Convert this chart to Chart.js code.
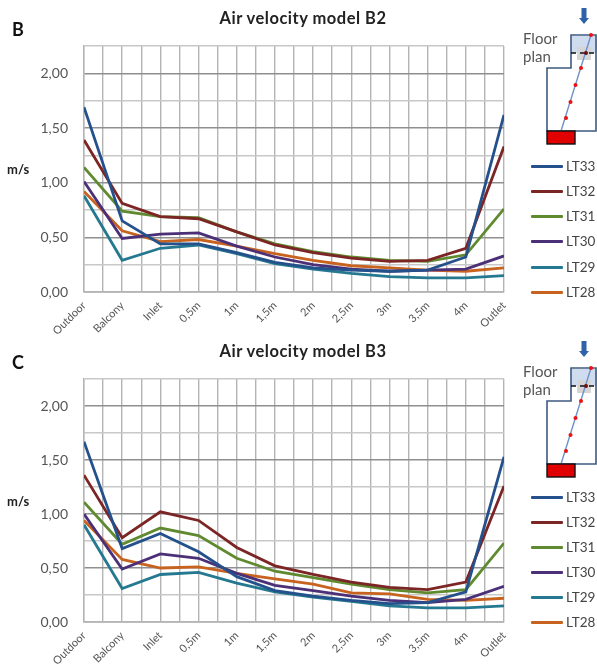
<!DOCTYPE html>
<html>
<head>
<meta charset="utf-8">
<title>Air velocity</title>
<script src="https://cdn.jsdelivr.net/npm/chart.js@4"></script>
<style>
    html, body { margin: 0; padding: 0; background: #fff; overflow: hidden; }
    #page { position: relative; width: 597px; height: 667px; overflow: hidden; font-family: Lato, sans-serif; }
    .panel { position: absolute; left: 0; width: 597px; height: 334px; }
    .panel canvas { position: absolute; left: 0; top: 0; }
    .title { position: absolute; left: 103px; width: 400px; text-align: center; font-size: 16.5px; letter-spacing: 0.5px; line-height: 20px; font-weight: bold; color: #222; }
    .letter { position: absolute; left: 12px; font-size: 18px; font-weight: bold; color: #111; }
    .unit { position: absolute; left: 7px; font-size: 13px; font-weight: bold; color: #222; }
    .floor { position: absolute; left: 523px; font-size: 15px; line-height: 18px; color: #555; }
    .plan { position: absolute; left: 510px; }
    .key { position: absolute; left: 531px; width: 66px; height: 16px; font-size: 13.5px; line-height: 16px; color: #444; white-space: nowrap; }
    .key i { position: absolute; left: 0; top: 7px; width: 32px; height: 3px; border-radius: 1px; }
    .key span { position: absolute; left: 35px; top: 0; }
</style>
</head>
<body>
<div id="page"></div>
<script>
// Axes
const categories = ['Outdoor', 'Balcony', 'Inlet', '0,5m', '1m', '1,5m', '2m', '2,5m', '3m', '3,5m', '4m', 'Outlet'];
const seriesNames = ['LT33', 'LT32', 'LT31', 'LT30', 'LT29', 'LT28'];
const seriesColors = ['#24508c', '#7c2525', '#5f8a30', '#4b2f77', '#24788f', '#c8631f'];

// Model B2 (m/s)
const b2LT33 = [1.69, 0.65, 0.44, 0.44, 0.36, 0.27, 0.22, 0.20, 0.19, 0.20, 0.32, 1.62];
const b2LT32 = [1.39, 0.81, 0.69, 0.67, 0.55, 0.43, 0.36, 0.31, 0.28, 0.29, 0.40, 1.33];
const b2LT31 = [1.14, 0.74, 0.69, 0.68, 0.55, 0.44, 0.37, 0.32, 0.29, 0.28, 0.34, 0.76];
const b2LT30 = [1.01, 0.49, 0.53, 0.54, 0.42, 0.32, 0.25, 0.21, 0.19, 0.20, 0.21, 0.33];
const b2LT29 = [0.88, 0.29, 0.40, 0.43, 0.35, 0.26, 0.21, 0.17, 0.14, 0.13, 0.13, 0.15];
const b2LT28 = [0.92, 0.56, 0.46, 0.48, 0.42, 0.35, 0.29, 0.24, 0.22, 0.20, 0.19, 0.22];

// Model B3 (m/s)
const b3LT33 = [1.67, 0.68, 0.82, 0.65, 0.42, 0.29, 0.24, 0.20, 0.17, 0.18, 0.28, 1.53];
const b3LT32 = [1.36, 0.78, 1.02, 0.94, 0.69, 0.52, 0.44, 0.37, 0.32, 0.30, 0.37, 1.26];
const b3LT31 = [1.11, 0.72, 0.87, 0.80, 0.59, 0.47, 0.41, 0.35, 0.30, 0.27, 0.30, 0.73];
const b3LT30 = [1.00, 0.49, 0.63, 0.59, 0.45, 0.34, 0.29, 0.24, 0.20, 0.18, 0.21, 0.33];
const b3LT29 = [0.90, 0.31, 0.44, 0.46, 0.36, 0.28, 0.23, 0.19, 0.15, 0.13, 0.13, 0.15];
const b3LT28 = [0.94, 0.58, 0.50, 0.51, 0.45, 0.40, 0.35, 0.27, 0.26, 0.21, 0.20, 0.22];

const page = document.getElementById('page');

// Dessin du petit plan (pas une donnee du graphique)
function floorPlanSvg() {
    const dots = [[81, 35], [71, 68], [65.5, 85], [60.5, 102], [56, 118]];
    return `<svg class="plan" width="87" height="150" viewBox="0 0 87 150">
        <rect x="61" y="36" width="26" height="17" fill="#cfdcf0"/>
        <rect x="67" y="47" width="14" height="13" fill="#d5d5d5"/>
        <path d="M61 35 H86 V131 H37 V68 H61 Z" fill="none" stroke="#3d5a80" stroke-width="1.6"/>
        <path d="M61 53 H87" stroke="#111" stroke-width="1.5" stroke-dasharray="5 4"/>
        <path d="M51 131 L81 35" stroke="#6f93c8" stroke-width="1.4"/>
        ${dots.map(d => `<circle cx="${d[0]}" cy="${d[1]}" r="2" fill="#ee1111"/>`).join('')}
        <circle cx="76" cy="53" r="2" fill="#6a0f0f"/>
        <rect x="37" y="131" width="28" height="13" fill="#e00000" stroke="#111" stroke-width="1.4"/>
        <path d="M71.5 8 H76.5 V18 H79 L74 24 L69 18 H71.5 Z" fill="#2f62a8"/>
    </svg>`;
}

function addText(className, text, top) {
    const el = document.createElement('div');
    el.className = className;
    el.innerHTML = text;
    el.style.top = top + 'px';
    page.appendChild(el);
}

function drawPanel(opts) {
    const panel = document.createElement('div');
    panel.className = 'panel';
    panel.style.top = opts.top + 'px';
    panel.innerHTML = '<canvas width="597" height="334"></canvas>';
    page.appendChild(panel);

    new Chart(panel.querySelector('canvas'), {
        type: 'line',
        data: {
            labels: categories,
            datasets: seriesNames.map((name, s) => ({
                label: name,
                data: opts.values[s].map((v, i) => ({ x: i, y: v })),
                borderColor: seriesColors[s],
                backgroundColor: seriesColors[s],
                borderWidth: 2.8,
                pointRadius: 0,
                tension: 0
            }))
        },
        options: {
            responsive: false,
            animation: false,
            layout: { padding: { top: 46, right: 93 } },
            plugins: {
                legend: { display: false },
                tooltip: { enabled: false },
                title: { display: false }
            },
            scales: {
                x: {
                    type: 'linear',
                    min: 0,
                    max: 11,
                    afterFit: scale => { scale.height = opts.xHeight; },
                    grid: { color: '#b4b4b4', lineWidth: 1.4, drawTicks: false },
                    border: { color: '#b4b4b4', width: 1.4 },
                    ticks: {
                        stepSize: 0.5,
                        autoSkip: false,
                        minRotation: 45,
                        maxRotation: 45,
                        padding: 7,
                        color: '#555',
                        font: { family: 'Lato', size: 11 },
                        callback: v => Number.isInteger(v) ? categories[v] : ''
                    }
                },
                y: {
                    min: 0,
                    max: 2.25,
                    afterFit: scale => { scale.width = 84; },
                    grid: {
                        color: ctx => ctx.tick.value % 0.5 === 0 ? '#8f8f8f' : '#c8c8c8',
                        lineWidth: 1.4,
                        drawTicks: false
                    },
                    border: { color: '#b4b4b4', width: 1.4 },
                    ticks: {
                        stepSize: 0.25,
                        autoSkip: false,
                        padding: 16,
                        color: '#555',
                        font: { family: 'Lato', size: 14 },
                        callback: v => v % 0.5 === 0 ? v.toFixed(2).replace('.', ',') : ''
                    }
                }
            }
        }
    });

    addText('title', opts.title, opts.top + 8);
    addText('letter', opts.letter, opts.letterTop);
    addText('unit', 'm/s', opts.unitTop);
    addText('floor', 'Floor<br>plan', opts.planTop + 29);

    const plan = document.createElement('div');
    plan.innerHTML = floorPlanSvg();
    plan.firstChild.style.top = opts.planTop + 'px';
    page.appendChild(plan.firstChild);

    seriesNames.forEach((name, s) => {
        const key = document.createElement('div');
        key.className = 'key';
        key.style.top = (opts.keyTop[s] - 8) + 'px';
        key.innerHTML = `<i style="background:${seriesColors[s]}"></i><span>${name}</span>`;
        page.appendChild(key);
    });
}

drawPanel({
    title: 'Air velocity model B2',
    letter: 'B',
    top: 0,
    xHeight: 42,
    letterTop: 18,
    unitTop: 161,
    planTop: 0,
    keyTop: [166, 191, 216, 241, 267, 292],
    values: [b2LT33, b2LT32, b2LT31, b2LT30, b2LT29, b2LT28]
});

drawPanel({
    title: 'Air velocity model B3',
    letter: 'C',
    top: 333,
    xHeight: 45,
    letterTop: 351,
    unitTop: 493,
    planTop: 333,
    keyTop: [497, 522, 547, 572, 597, 622],
    values: [b3LT33, b3LT32, b3LT31, b3LT30, b3LT29, b3LT28]
});
</script>
</body>
</html>
